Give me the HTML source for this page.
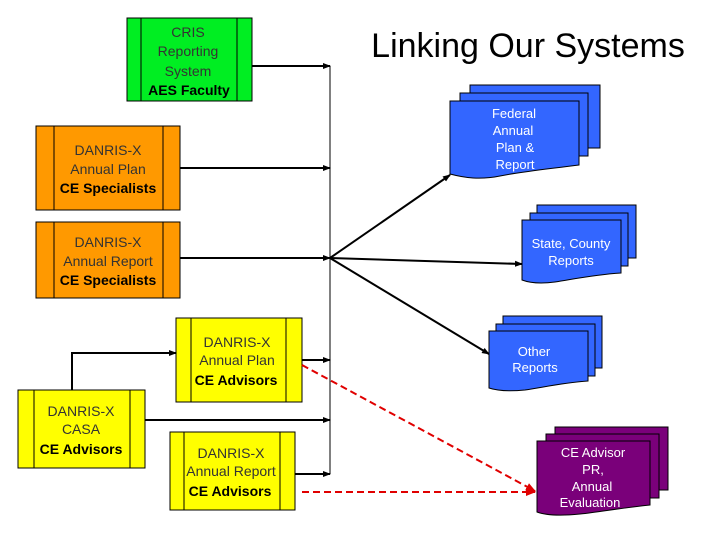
<!DOCTYPE html>
<html><head><style>
body{margin:0;background:#fff;}
svg text{font-family:"Liberation Sans",sans-serif;}
</style></head><body>
<svg width="720" height="540" viewBox="0 0 720 540" xmlns="http://www.w3.org/2000/svg">
<defs>
<marker id="a" markerWidth="8" markerHeight="8" refX="7" refY="4" orient="auto" markerUnits="userSpaceOnUse"><path d="M0,1 L8,4 L0,7 Z" fill="#000"/></marker>
<marker id="r" markerWidth="10" markerHeight="10" refX="9" refY="5" orient="auto" markerUnits="userSpaceOnUse"><path d="M0,1 L10,5 L0,9 Z" fill="#e00000"/></marker>
</defs>
<text x="528" y="57" font-size="34" text-anchor="middle">Linking Our Systems</text>
<!-- green -->
<rect x="127" y="18" width="125" height="83" fill="#00ee22" stroke="#000"/>
<line x1="141" y1="18" x2="141" y2="101" stroke="#000"/><line x1="237" y1="18" x2="237" y2="101" stroke="#000"/>
<g font-size="14" text-anchor="middle"><text x="188" y="37" fill="#333">CRIS</text><text x="188" y="56" fill="#333">Reporting</text><text x="188" y="76" fill="#333">System</text><text x="189" y="95" font-weight="bold">AES Faculty</text></g>
<!-- orange -->
<rect x="36" y="126" width="144" height="84" fill="#ff9900" stroke="#000"/>
<line x1="54" y1="126" x2="54" y2="210" stroke="#000"/><line x1="163" y1="126" x2="163" y2="210" stroke="#000"/>
<g font-size="14" text-anchor="middle"><text x="108" y="155" fill="#333">DANRIS-X</text><text x="108" y="174" fill="#333">Annual Plan</text><text x="108" y="193" font-weight="bold">CE Specialists</text></g>
<rect x="36" y="222" width="144" height="76" fill="#ff9900" stroke="#000"/>
<line x1="54" y1="222" x2="54" y2="298" stroke="#000"/><line x1="163" y1="222" x2="163" y2="298" stroke="#000"/>
<g font-size="14" text-anchor="middle"><text x="108" y="247" fill="#333">DANRIS-X</text><text x="108" y="266" fill="#333">Annual Report</text><text x="108" y="285" font-weight="bold">CE Specialists</text></g>
<!-- yellow -->
<rect x="176" y="318" width="126" height="84" fill="#ffff00" stroke="#000"/>
<line x1="191" y1="318" x2="191" y2="402" stroke="#000"/><line x1="286" y1="318" x2="286" y2="402" stroke="#000"/>
<g font-size="14" text-anchor="middle"><text x="237" y="347" fill="#333">DANRIS-X</text><text x="237" y="365" fill="#333">Annual Plan</text><text x="236" y="385" font-weight="bold">CE Advisors</text></g>
<rect x="18" y="390" width="127" height="78" fill="#ffff00" stroke="#000"/>
<line x1="34" y1="390" x2="34" y2="468" stroke="#000"/><line x1="130" y1="390" x2="130" y2="468" stroke="#000"/>
<g font-size="14" text-anchor="middle"><text x="81" y="416" fill="#333">DANRIS-X</text><text x="81" y="434" fill="#333">CASA</text><text x="81" y="454" font-weight="bold">CE Advisors</text></g>
<rect x="170" y="432" width="125" height="78" fill="#ffff00" stroke="#000"/>
<line x1="184" y1="432" x2="184" y2="510" stroke="#000"/><line x1="280" y1="432" x2="280" y2="510" stroke="#000"/>
<g font-size="14" text-anchor="middle"><text x="231" y="458" fill="#333">DANRIS-X</text><text x="231" y="476" fill="#333">Annual Report</text><text x="230" y="496" font-weight="bold">CE Advisors</text></g>
<!-- connectors -->
<g stroke="#000" stroke-width="2" fill="none">
<line x1="330" y1="66" x2="330" y2="474" stroke-width="1"/>
<line x1="252" y1="66" x2="330" y2="66" marker-end="url(#a)"/>
<line x1="180" y1="168" x2="330" y2="168" marker-end="url(#a)"/>
<line x1="180" y1="258" x2="330" y2="258" marker-end="url(#a)"/>
<line x1="302" y1="360" x2="330" y2="360" marker-end="url(#a)"/>
<line x1="145" y1="420" x2="330" y2="420" marker-end="url(#a)"/>
<line x1="295" y1="474" x2="330" y2="474" marker-end="url(#a)"/>
<polyline points="72,390 72,353 176,353" marker-end="url(#a)"/>
<line x1="330" y1="258" x2="450" y2="175" marker-end="url(#a)"/>
<line x1="330" y1="258" x2="522" y2="264" marker-end="url(#a)"/>
<line x1="330" y1="258" x2="489" y2="354" marker-end="url(#a)"/>
</g>
<g stroke="#e00000" stroke-width="2" stroke-dasharray="7,4" fill="none">
<line x1="302" y1="365" x2="535" y2="491" marker-end="url(#r)"/>
<line x1="302" y1="492" x2="535" y2="492" marker-end="url(#r)"/>
</g>
<!-- docs -->
<g stroke="#000" stroke-width="1">
<g fill="#3366ff">
<path d="M470,85 H600 V148 H470 Z"/><path d="M460,93 H588 V156 H460 Z"/>
<path d="M450,101 H579 V165 C540,170 520,172 500,176 C480,180 465,178 450,174 Z"/>
<path d="M537,205 H636 V258 H537 Z"/><path d="M530,213 H628 V266 H530 Z"/>
<path d="M522,220 H621 V273 C590,275 570,280 555,282 C540,284 530,283 522,280 Z"/>
<path d="M503,316 H602 V368 H503 Z"/><path d="M496,324 H595 V376 H496 Z"/>
<path d="M489,331 H588 V381 C560,383 540,388 525,390 C505,392 495,390 489,388 Z"/>
</g>
<g fill="#7a007a">
<path d="M555,427 H668 V490 H555 Z"/><path d="M546,434 H659 V498 H546 Z"/>
<path d="M537,441 H650 V505 C620,508 600,512 580,514 C560,516 545,515 537,512 Z"/>
</g>
</g>
<g font-size="13" fill="#fff" text-anchor="middle">
<text x="514" y="118">Federal</text><text x="513" y="135">Annual</text><text x="515" y="152">Plan &amp;</text><text x="515" y="169">Report</text>
<text x="571" y="248">State, County</text><text x="571" y="265">Reports</text>
<text x="534" y="356">Other</text><text x="535" y="372">Reports</text>
<text x="593" y="457">CE Advisor</text><text x="593" y="474">PR,</text><text x="592" y="491">Annual</text><text x="590" y="507">Evaluation</text>
</g>
</svg>
</body></html>
